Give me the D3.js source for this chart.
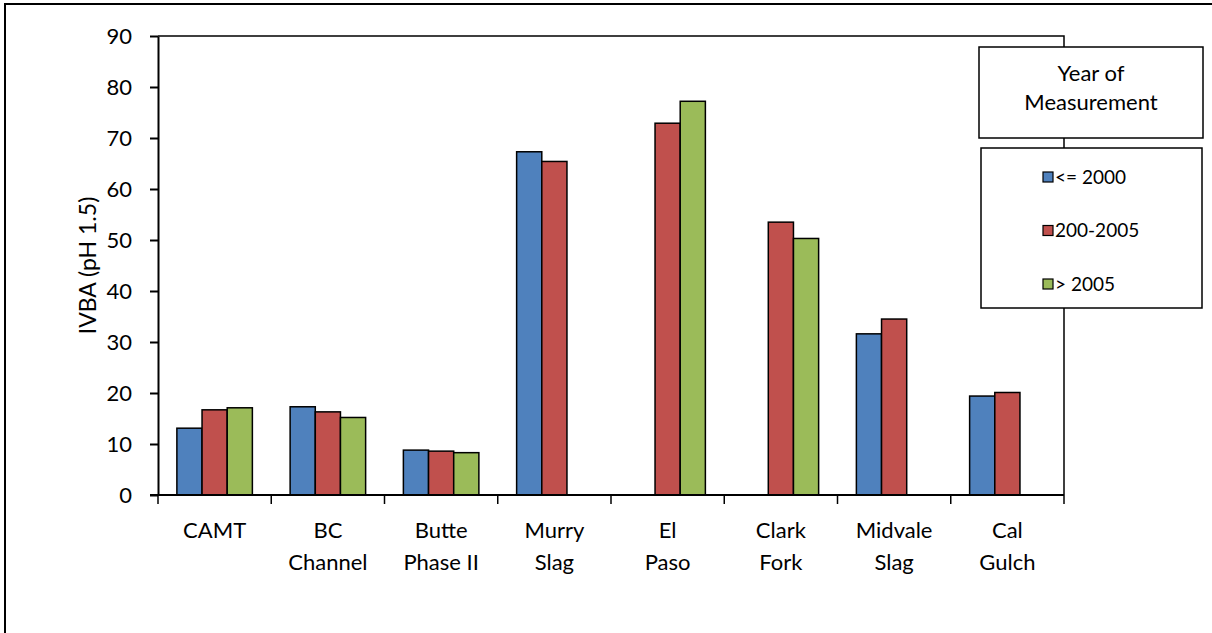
<!DOCTYPE html>
<html>
<head>
<meta charset="utf-8">
<script src="https://cdn.jsdelivr.net/npm/d3@7"></script>
<style>
  html, body { margin: 0; padding: 0; background: #fff; }
  svg { display: block; font-family: Lato, "Open Sans", sans-serif; }
</style>
</head>
<body>
<svg id="chart" width="1212" height="633"></svg>
<script>
const categories = [["CAMT"], ["BC", "Channel"], ["Butte", "Phase II"], ["Murry", "Slag"], ["El", "Paso"], ["Clark", "Fork"], ["Midvale", "Slag"], ["Cal", "Gulch"]];
const seriesNames = ["<= 2000", "200-2005", "> 2005"];
const seriesColors = ["#4F81BD", "#C0504D", "#9BBB59"];
const valuesUpTo2000 = [13.1, 17.3, 8.8, 67.3, null, null, 31.6, 19.4];
const values2000to2005 = [16.7, 16.3, 8.6, 65.4, 72.9, 53.5, 34.5, 20.1];
const valuesAfter2005 = [17.1, 15.2, 8.3, null, 77.2, 50.3, null, null];
const yTicks = [0, 10, 20, 30, 40, 50, 60, 70, 80, 90];
const yLabel = "IVBA (pH 1.5)";
const legendTitle = ["Year of", "Measurement"];

const seriesValues = [valuesUpTo2000, values2000to2005, valuesAfter2005];
const svg = d3.select("#chart");

// outer chart border (cropped on right/bottom)
svg.append("rect").attr("x", 5).attr("y", 4).attr("width", 1300).attr("height", 700)
  .attr("fill", "none").attr("stroke", "#000").attr("stroke-width", 2);

const plot = { left: 158, right: 1064, top: 36, bottom: 495 };

const catKeys = categories.map((c, i) => i);
const x0 = d3.scaleBand().domain(catKeys).range([plot.left, plot.right]).paddingInner(0).paddingOuter(0);
const x1 = d3.scaleBand().domain([0, 1, 2]).range([0, x0.bandwidth()]).paddingInner(0).paddingOuter(0.75);
const y = d3.scaleLinear().domain([0, 90]).range([plot.bottom, plot.top]);

// plot area border (top and right)
svg.append("path")
  .attr("d", `M${plot.left},${plot.top}H${plot.right}V${plot.bottom}`)
  .attr("fill", "none").attr("stroke", "#000").attr("stroke-width", 1.5);

// bars
const rows = [];
catKeys.forEach(ci => {
  seriesValues.forEach((arr, si) => {
    if (arr[ci] != null) rows.push({ ci, si, v: arr[ci] });
  });
});
svg.append("g").selectAll("rect").data(rows).join("rect")
  .attr("x", d => x0(d.ci) + x1(d.si))
  .attr("y", d => y(d.v))
  .attr("width", x1.bandwidth())
  .attr("height", d => y(0) - y(d.v))
  .attr("fill", d => seriesColors[d.si])
  .attr("stroke", "#000").attr("stroke-width", 1.5);

// y axis
const yAxis = svg.append("g").attr("transform", `translate(${plot.left},0)`)
  .call(d3.axisLeft(y).tickValues(yTicks).tickSize(8).tickPadding(18).tickSizeOuter(0));
yAxis.select(".domain").attr("stroke", "#000").attr("stroke-width", 2);
yAxis.selectAll(".tick line").attr("stroke", "#000").attr("stroke-width", 2);
yAxis.selectAll(".tick text").attr("font-size", 22).attr("fill", "#000")
  .attr("font-family", "Lato, sans-serif");

// x axis: ticks at category boundaries
const xAxisG = svg.append("g");
xAxisG.append("line").attr("x1", plot.left - 8).attr("x2", plot.right)
  .attr("y1", plot.bottom).attr("y2", plot.bottom).attr("stroke", "#000").attr("stroke-width", 2);
const boundaries = catKeys.map(i => x0(i)).concat([x0(catKeys.length - 1) + x0.bandwidth()]);
xAxisG.selectAll("line.tk").data(boundaries).join("line").attr("class", "tk")
  .attr("x1", d => d).attr("x2", d => d)
  .attr("y1", plot.bottom).attr("y2", plot.bottom + 9)
  .attr("stroke", "#000").attr("stroke-width", 1.5);
const catText = xAxisG.selectAll("text.cat").data(categories).join("text").attr("class", "cat")
  .attr("x", (d, i) => x0(i) + x0.bandwidth() / 2)
  .attr("y", 538)
  .attr("text-anchor", "middle").attr("font-size", 22).attr("fill", "#000");
catText.selectAll("tspan").data(d => d).join("tspan")
  .attr("x", function () { return d3.select(this.parentNode).attr("x"); })
  .attr("dy", (d, i) => i === 0 ? 0 : 32)
  .text(d => d);

// y axis label
svg.append("text")
  .attr("transform", `translate(96,${(plot.top + plot.bottom) / 2}) rotate(-90)`)
  .attr("text-anchor", "middle").attr("font-size", 23).attr("fill", "#000")
  .text(yLabel);

// legend title box
svg.append("rect").attr("x", 979).attr("y", 47).attr("width", 224).attr("height", 91)
  .attr("fill", "#fff").attr("stroke", "#000").attr("stroke-width", 1.5);
svg.append("text").attr("x", 1091).attr("y", 81).attr("text-anchor", "middle")
  .attr("font-size", 22).attr("fill", "#000")
  .selectAll("tspan").data(legendTitle).join("tspan")
  .attr("x", 1091).attr("dy", (d, i) => i === 0 ? 0 : 29).text(d => d);

// legend box
svg.append("rect").attr("x", 981).attr("y", 148).attr("width", 221).attr("height", 160)
  .attr("fill", "#fff").attr("stroke", "#000").attr("stroke-width", 1.5);
const legendY = d3.scalePoint().domain([0, 1, 2]).range([177, 284]);
const items = svg.append("g").selectAll("g").data(seriesNames).join("g")
  .attr("transform", (d, i) => `translate(1043,${legendY(i)})`);
items.append("rect").attr("x", 0).attr("y", -5).attr("width", 10).attr("height", 10)
  .attr("fill", (d, i) => seriesColors[i]).attr("stroke", "#000").attr("stroke-width", 1.2);
items.append("text").attr("x", 12).attr("y", 0).attr("dy", "0.35em")
  .attr("font-size", 19).attr("fill", "#000").text(d => d);
</script>
</body>
</html>
